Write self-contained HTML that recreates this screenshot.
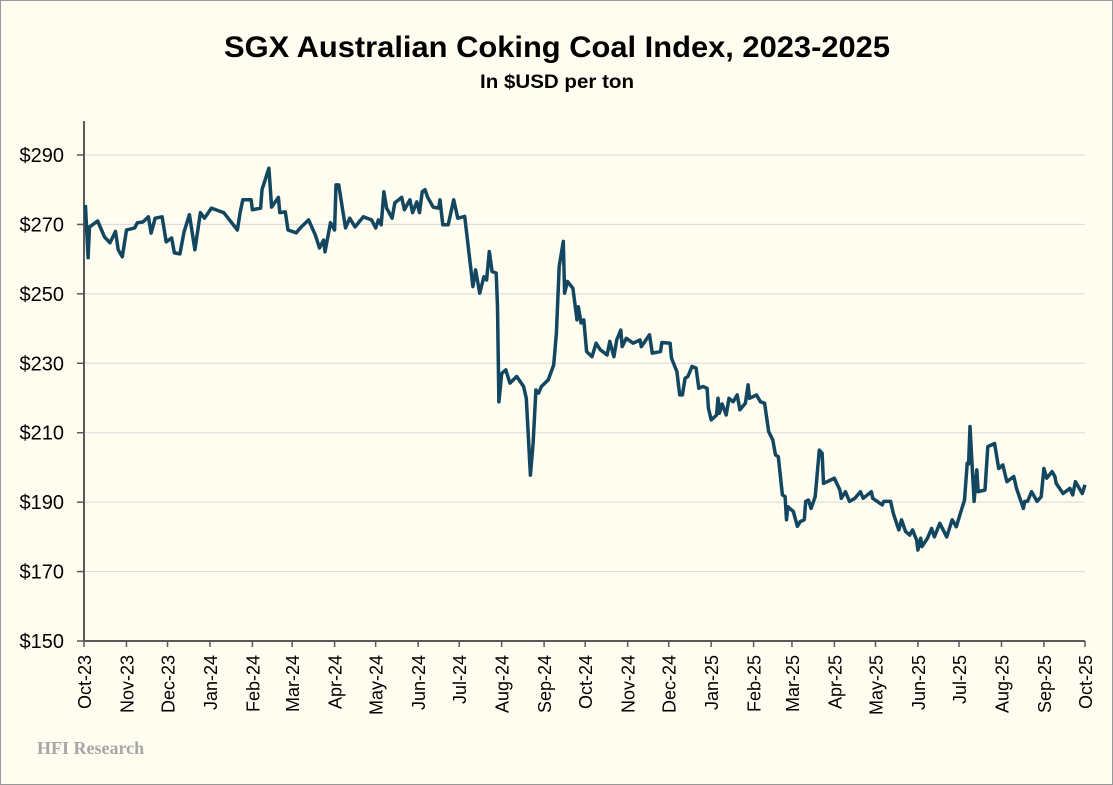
<!DOCTYPE html>
<html><head><meta charset="utf-8"><style>
html,body{margin:0;padding:0;background:#fffcf0;}
#wrap{position:relative;width:1111px;height:783px;border:1px solid #999;background:#fffcf0;font-family:"Liberation Sans",sans-serif;overflow:hidden}
</style></head><body>
<div id="wrap">
<svg id="chart" width="1111" height="783">
<text x="556" y="56" text-anchor="middle" font-size="30" font-weight="bold" fill="#000" textLength="666" lengthAdjust="spacingAndGlyphs">SGX Australian Coking Coal Index, 2023-2025</text>
<text x="556" y="87" text-anchor="middle" font-size="19" font-weight="bold" fill="#000" textLength="154" lengthAdjust="spacingAndGlyphs">In $USD per ton</text>
<text x="36" y="753" font-family="Liberation Serif,serif" font-size="18" font-weight="bold" fill="#a6a6a6">HFI Research</text>
<g id="grid"></g><g id="axes"></g><g id="series"></g>
</svg>
</div>
<script>
const days=[1,3,4,10,15,19,23,25,28,31,37,39,43,47,49,52,57,60,64,66,70,73,77,81,85,88,93,102,112,114,116,122,123,129,130,135,137,142,143,147,149,155,158,164,169,172,175,176,180,183,184,186,191,194,198,204,210,213,215,217,219,221,225,227,232,234,238,240,243,245,247,249,251,255,259,260,262,266,
270,273,278,284,286,289,292,294,296,298,301,302,303,305,308,311,316,321,323,326,328,330,332,334,339,343,345,347,350,351,353,357,360,361,363,365,367,371,374,377,382,384,387,389,392,393,396,401,406,407,413,415,421,422,428,429,433,435,437,439,441,444,447,449,452,455,456,458,462,463,464,466,469,471,474,477,479,483,485,486,491,494,497,500,503,505,507,
510,512,513,514,518,521,523,526,527,529,531,534,537,539,540,548,552,553,556,559,563,567,569,575,576,583,584,589,591,593,595,597,600,603,605,608,609,611,612,616,619,621,625,630,634,637,640,643,645,646,647,650,652,653,658,660,665,668,671,674,679,681,686,687,689,692,696,699,701,703,707,709,710,715,720,722,724,729,731];
const prices=[275.6,260.4,269.3,271,266.4,264.7,268,262.7,260.7,268.4,269,270.5,270.7,272.2,267.5,271.8,272.2,265,266.1,261.8,261.5,267.8,272.8,262.7,273.4,271.8,274.7,273.4,268.4,273.4,277.1,277.1,274.2,274.7,280,286.2,275,277.8,273.4,273.6,268.4,267.6,269,271.3,266.9,263.2,265.5,262.1,270.5,268.4,281.4,281.4,269,271.8,269.3,272.2,271.3,269,271.3,269.9,279.4,274.7,271.8,276.2,277.8,274.2,277.1,273.4,276.5,273.4,279.4,280,277.8,275,274.7,277.1,269.9,269.9,
277.1,271.8,272.3,252.1,256.9,250.2,254.9,254,262.2,256.4,256,246.3,218.9,227.1,228.1,224.3,226.2,223.3,219.9,197.8,206.9,222.3,221.4,223.3,225.2,229.5,238.7,257.9,265.1,250.2,253.6,251.6,242.5,246.3,241.6,242.5,233.4,231.9,235.8,233.9,232.4,236.3,231.9,236.7,239.6,234.8,237.2,235.8,236.7,234.8,238.2,232.9,233.4,236,235.8,231.5,227.6,220.9,220.9,225.7,226.2,229.1,228.6,222.8,223.3,222.8,217.1,213.7,215.1,219.9,215.6,218.3,215.1,219.9,218.9,220.9,216.6,218.5,223.8,219.9,220.9,218.9,218.5,210.3,207.9,203.6,203.1,
192.1,191.6,184.9,188.7,187.3,183,184.4,184.9,190.2,190.6,188.2,191.6,205,204.1,195.4,196.9,193.5,191.1,193,190.2,191.1,193,191.1,193,191.1,189.2,190.2,190.2,186.8,184.4,182,184.9,181.5,180.5,182,179.1,176.2,179.6,177.2,179.6,182.4,180,183.9,180,184.9,182.9,186.8,190.6,201.2,201,211.8,190.2,199.3,193,193.5,206,206.9,199.7,200.7,195.9,197.4,194,188.2,190.2,190.2,193,190.2,191.6,199.7,196.9,198.8,197.4,195.4,192.5,194,192.1,195.9,192.5,195];
const yTicks=[150,170,190,210,230,250,270,290];
const monthLabels=["Oct-23","Nov-23","Dec-23","Jan-24","Feb-24","Mar-24","Apr-24","May-24","Jun-24","Jul-24","Aug-24","Sep-24","Oct-24","Nov-24","Dec-24","Jan-25","Feb-25","Mar-25","Apr-25","May-25","Jun-25","Jul-25","Aug-25","Sep-25","Oct-25"];
const monthDays=[0,31,61,92,123,152,183,213,244,274,305,336,366,397,427,458,489,517,548,578,609,639,670,701,731];

const NS="http://www.w3.org/2000/svg";
const X0=83,X1=1084,Y0=640,Y1=154;
const x=d=>X0+(X1-X0)*d/731;
const y=v=>Y0-(Y0-Y1)*(v-150)/140;
function mk(tag,attrs,parent){const e=document.createElementNS(NS,tag);for(const k in attrs)e.setAttribute(k,attrs[k]);parent.appendChild(e);return e;}
const grid=document.getElementById('grid'),axes=document.getElementById('axes'),series=document.getElementById('series');
yTicks.forEach(v=>{
  if(v>150){const l=mk('line',{x1:X0,x2:X1,y1:y(v),y2:y(v),stroke:'#d9d9d9','stroke-width':1},grid);
  
  }
  const tk=mk('line',{x1:X0-7,x2:X0,y1:y(v),y2:y(v),stroke:'#595959','stroke-width':1.5},axes);
  
  
  const t=mk('text',{x:X0-20,y:y(v)+7,'text-anchor':'end','font-size':20,fill:'#000'},axes);
  t.textContent='$'+v;
  
  
});
const ya=mk('line',{x1:X0,x2:X0,y1:120,y2:Y0,stroke:'#595959','stroke-width':2},axes);


const xa=mk('line',{x1:X0,x2:X1,y1:Y0,y2:Y0,stroke:'#595959','stroke-width':2},axes);


monthDays.forEach((d,i)=>{
  const tk=mk('line',{x1:x(d),x2:x(d),y1:Y0,y2:Y0+6,stroke:'#595959','stroke-width':1.5},axes);
  
  
  const t=mk('text',{x:0,y:0,'text-anchor':'end','font-size':18,fill:'#000',transform:`translate(${x(d)+7},${Y0+14}) rotate(-90)`},axes);
  t.textContent=monthLabels[i];
  
  
});
const pts=days.map((d,i)=>x(d).toFixed(1)+','+y(prices[i]).toFixed(1)).join(' ');
const pl=mk('polyline',{points:pts,fill:'none',stroke:'#12475f','stroke-width':3.5,'stroke-linejoin':'round'},series);


</script>
</body></html>
